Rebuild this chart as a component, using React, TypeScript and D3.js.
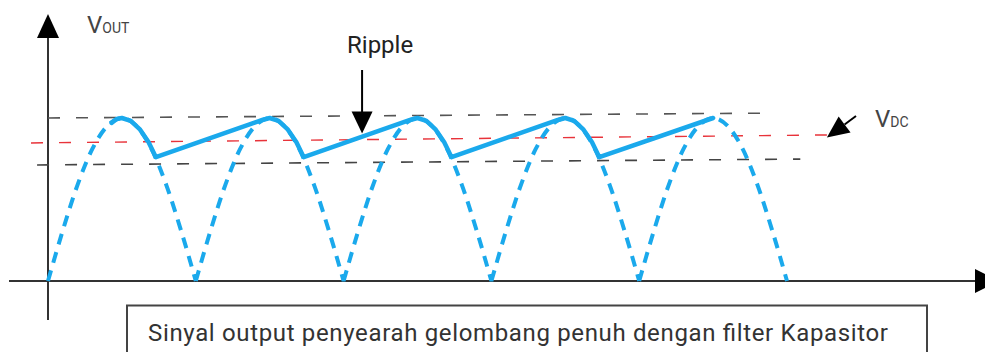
import React from "react";
import * as d3 from "d3";

// ---- data (time in ms, voltage in V) ----
const humpStarts = [0, 10, 20, 30, 40];
const humpOffsets = [0, 1, 2, 3, 4, 5, 6, 7, 8, 9, 10];
const humpLevels = [0, 3.1, 5.9, 8.1, 9.5, 10, 9.5, 8.1, 5.9, 3.1, 0];

// filtered output (solid): [t, V]
const rippleT = [4.3, 4.65, 5, 5.6, 6.2, 6.8, 7.3, 14.5, 15, 15.6, 16.2, 16.8, 17.3, 24.5, 25, 25.6, 26.2, 26.8, 27.3, 34.5, 35, 35.6, 36.2, 36.8, 37.3, 45];
const rippleV = [9.7, 9.94, 10, 9.82, 9.32, 8.53, 7.6, 9.88, 10, 9.82, 9.32, 8.53, 7.6, 9.88, 10, 9.82, 9.32, 8.53, 7.6, 9.88, 10, 9.82, 9.32, 8.53, 7.6, 10];

// reference lines: [t, V] endpoints
const vMaxLine: [number, number][] = [[0, 10.0], [48.85, 10.3]];
const vDcLine: [number, number][] = [[-1.15, 8.47], [52.7, 8.96]];
const vMinLine: [number, number][] = [[-0.74, 7.12], [50.9, 7.48]];

const rippleArrowT = 21.25;
const rippleArrowV = 9.05;
const dcArrowTip: [number, number] = [52.7, 8.8];

const caption = "Sinyal output penyearah gelombang penuh dengan filter Kapasitor";

const W = 985;
const H = 352;
const BLUE = "#1aa9ec";
const FONT = "Roboto, 'Noto Sans', sans-serif";

export default function App() {
  const x = d3.scaleLinear().domain([0, 50]).range([48, 787]);
  const y = d3.scaleLinear().domain([0, 10]).range([281, 118]);

  const humpLine = d3
    .line<[number, number]>()
    .x((d) => x(d[0]))
    .y((d) => y(d[1]))
    .curve(d3.curveMonotoneX);
  const straight = d3
    .line<[number, number]>()
    .x((d) => x(d[0]))
    .y((d) => y(d[1]));

  const humpPath = humpStarts
    .map((s) => humpLine(humpOffsets.map((o, i) => [s + o, humpLevels[i]] as [number, number])))
    .join("");
  const ripplePts = rippleT.map((t, i) => [t, rippleV[i]] as [number, number]);

  const x0 = x(0);
  const y0 = y(0);

  const rax = x(rippleArrowT);
  const ray = y(rippleArrowV);
  const dtx = x(dcArrowTip[0]);
  const dty = y(dcArrowTip[1]);
  const ang = Math.atan2(dty - 116, dtx - 856);
  const hl = 22;
  const hw = 10;
  const bx = dtx - hl * Math.cos(ang);
  const by = dty - hl * Math.sin(ang);
  const px = -Math.sin(ang) * hw;
  const py = Math.cos(ang) * hw;

  return (
    <svg
      width={W}
      height={H}
      style={{ position: "absolute", left: 0, top: 0, background: "#fff" }}
      fontFamily={FONT}
    >
      {/* axes */}
      <line x1={x0} y1={36} x2={x0} y2={320} stroke="#333" strokeWidth={2} />
      <path d={`M${x0},14 L${x0 - 11},38 L${x0 + 11},38 Z`} fill="#000" />
      <line x1={9} y1={y0} x2={977} y2={y0} stroke="#333" strokeWidth={2} />
      <path d={`M975,${y0 - 12} L999,${y0} L975,${y0 + 12} Z`} fill="#000" />

      {/* reference dashed lines */}
      <path d={straight(vMaxLine) || ""} stroke="#555" strokeWidth={1.6} strokeDasharray="12 16" fill="none" />
      <path d={straight(vMinLine) || ""} stroke="#444" strokeWidth={1.6} strokeDasharray="12 16" fill="none" />
      <path d={straight(vDcLine) || ""} stroke="#e8333a" strokeWidth={1.4} strokeDasharray="12 16" fill="none" />

      {/* rectified sine */}
      <path d={humpPath} stroke={BLUE} strokeWidth={4} strokeDasharray="11 8" fill="none" />
      {/* filtered output */}
      <path
        d={straight(ripplePts) || ""}
        stroke={BLUE}
        strokeWidth={4.5}
        fill="none"
        strokeLinejoin="round"
        strokeLinecap="round"
      />

      {/* labels */}
      <text x={87} y={33} fill="#444" fontSize={24}>
        V<tspan fontSize={14}>OUT</tspan>
      </text>
      <text x={347} y={53} fill="#222" fontSize={24}>Ripple</text>
      <line x1={rax} y1={70} x2={rax} y2={ray - 20} stroke="#000" strokeWidth={2} />
      <path d={`M${rax - 10.5},${ray - 22} L${rax + 10.5},${ray - 22} L${rax},${ray} Z`} fill="#000" />

      <text x={875} y={127} fill="#444" fontSize={24}>
        V<tspan fontSize={14}>DC</tspan>
      </text>
      <line x1={856} y1={116} x2={bx} y2={by} stroke="#000" strokeWidth={2} />
      <path d={`M${dtx},${dty} L${bx + px},${by + py} L${bx - px},${by - py} Z`} fill="#000" />

      {/* caption box */}
      <rect x={127} y={305.5} width={800} height={60} fill="#fff" stroke="#444" strokeWidth={2} />
      <text x={148} y={341} fill="#333" fontSize={24} textLength={740} lengthAdjust="spacing">
        {caption}
      </text>
    </svg>
  );
}
